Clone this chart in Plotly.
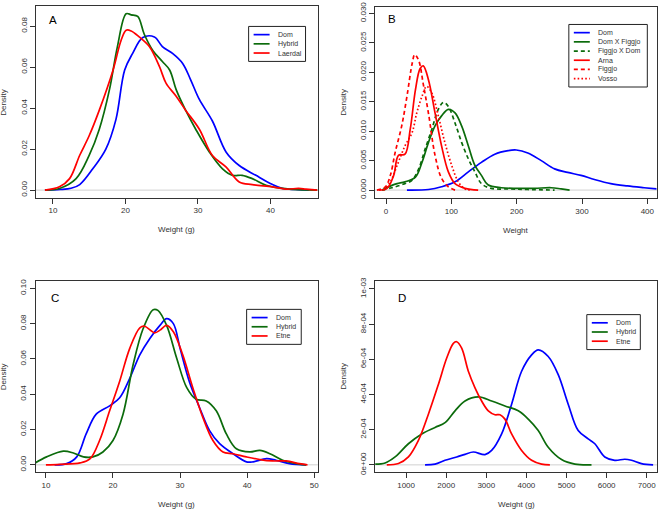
import plotly.graph_objects as go

W, H = 659, 511

# ---------------- data ----------------
# Panel A
A_dom_x = [8.9, 11.0, 12.5, 13.7, 15.5, 17.3, 18.7, 19.9, 21.0, 22.4, 24.0, 25.1, 26.5, 27.9, 29.0, 30.2, 32.0, 33.9, 35.7, 38.0, 40.3, 41.7, 43.5, 45.3]
A_dom_y = [0.0, 0.0003, 0.0009, 0.0027, 0.0104, 0.020, 0.0345, 0.0586, 0.0667, 0.0744, 0.0747, 0.0700, 0.0667, 0.0618, 0.0538, 0.0442, 0.0337, 0.0185, 0.0120, 0.0072, 0.0027, 0.0008, 0.0003, 0.0]
A_hyb_x = [8.9, 10.9, 13.2, 15.0, 16.4, 17.8, 18.9, 20.1, 20.8, 21.7, 22.6, 23.8, 25.1, 26.1, 27.0, 28.3, 29.7, 31.6, 33.4, 34.8, 36.1, 37.5, 39.4, 41.7, 43.9, 46.5]
A_hyb_y = [0.0, 0.0008, 0.0056, 0.0169, 0.0297, 0.049, 0.070, 0.086, 0.0855, 0.0847, 0.076, 0.068, 0.0627, 0.0586, 0.049, 0.039, 0.0297, 0.0185, 0.0104, 0.0072, 0.0072, 0.0056, 0.0024, 0.0008, 0.0002, 0.0]
A_lae_x = [8.9, 10.9, 12.3, 13.7, 15.0, 16.4, 18.3, 19.4, 20.1, 20.8, 21.9, 23.3, 24.7, 25.6, 27.0, 28.3, 30.2, 32.0, 33.9, 35.7, 37.5, 40.3, 42.1, 43.9, 44.9, 46.5]
A_lae_y = [0.0, 0.0016, 0.0056, 0.0170, 0.0265, 0.039, 0.0586, 0.073, 0.078, 0.0776, 0.0747, 0.070, 0.0602, 0.0522, 0.0458, 0.039, 0.0297, 0.0169, 0.0112, 0.004, 0.0027, 0.0016, 0.0005, 0.0008, 0.0005, 0.0]

# Panel B
B_dom_x = [32, 65, 85, 105.6, 126, 146, 166.5, 187, 199.5, 217, 237.6, 258, 278, 298.5, 319, 344, 369.5, 395, 414]
B_dom_y = [0.0, 0.0001, 0.00056, 0.0014, 0.0031, 0.0047, 0.0061, 0.0067, 0.0068, 0.0063, 0.0050, 0.0036, 0.0030, 0.0025, 0.0018, 0.0011, 0.0007, 0.0004, 0.0002]
B_dxf_x = [-6, 9, 17, 29, 45, 55, 65, 75, 85, 95.4, 105.6, 115.7, 126, 136, 146, 156, 176.6, 202, 227, 253, 268, 281]
B_dxf_y = [0.0, 0.0008, 0.0011, 0.0014, 0.0022, 0.0047, 0.0081, 0.0109, 0.0126, 0.0137, 0.0131, 0.0109, 0.0075, 0.0042, 0.0025, 0.0009, 0.0004, 0.0003, 0.0003, 0.0004, 0.0002, 0.0]
B_fxd_x = [-6, 9, 24, 40, 50, 60, 70, 80, 88, 95.4, 105.6, 115.7, 126, 136, 146, 161, 192, 217, 258]
B_fxd_y = [0.0, 0.0004, 0.0009, 0.0017, 0.0036, 0.0070, 0.0103, 0.0137, 0.0149, 0.0142, 0.0114, 0.0081, 0.0053, 0.0031, 0.0011, 0.0003, 0.0002, 0.0001, 0.0]
B_arna_x = [-11, 1.5, 11.7, 19, 29, 37, 45, 52, 57, 65, 75, 85, 95.4, 105.6, 121, 141]
B_arna_y = [0.0, 0.0003, 0.0025, 0.0059, 0.0061, 0.0103, 0.0170, 0.0206, 0.0211, 0.0187, 0.0131, 0.0075, 0.0031, 0.0011, 0.0003, 0.0]
B_fig_x = [-14, -1, 6.6, 14, 24, 32, 40, 44, 50, 57, 65, 75, 85, 95.4, 105.6]
B_fig_y = [0.0, 0.00056, 0.0025, 0.0064, 0.0109, 0.0159, 0.0215, 0.0230, 0.0220, 0.0180, 0.0130, 0.0059, 0.0020, 0.00056, 0.0]
B_vos_x = [-3.5, 6.6, 17, 29, 40, 47, 55, 62, 70, 80, 90, 100.5, 110.7, 121, 131]
B_vos_y = [0.0, 0.0014, 0.0042, 0.0075, 0.0098, 0.0131, 0.0159, 0.0176, 0.0165, 0.0126, 0.0081, 0.0042, 0.0014, 0.0002, 0.0]

# Panel C
C_dom_x = [11.3, 13.1, 14.6, 16.0, 17.5, 19.5, 21.0, 22.5, 24.0, 25.5, 27.0, 28.0, 29.0, 30.0, 31.4, 32.9, 34.4, 35.9, 37.9, 39.9, 40.9, 42.9, 44.3, 46.3, 48.8]
C_dom_y = [0.0, 0.0007, 0.0045, 0.0175, 0.0287, 0.0334, 0.038, 0.049, 0.0623, 0.0716, 0.079, 0.0828, 0.080, 0.066, 0.047, 0.0325, 0.0194, 0.012, 0.0063, 0.0017, 0.0017, 0.0035, 0.0026, 0.0007, 0.0]
C_hyb_x = [8.4, 10.1, 12.6, 14.1, 15.6, 17.0, 18.5, 20.0, 21.5, 23.0, 24.5, 26.0, 26.7, 28.0, 29.5, 31.0, 32.4, 33.9, 35.4, 36.9, 38.4, 40.4, 41.9, 43.4, 45.3, 47.8, 48.8]
C_hyb_y = [0.0011, 0.0045, 0.0078, 0.0067, 0.0045, 0.0045, 0.0073, 0.0138, 0.0287, 0.0567, 0.0772, 0.0879, 0.0875, 0.079, 0.0604, 0.0437, 0.0371, 0.0362, 0.0306, 0.0175, 0.0091, 0.0073, 0.0082, 0.0063, 0.0026, 0.0004, 0.0]
C_etn_x = [10.0, 12.1, 15.1, 16.6, 18.0, 19.5, 21.0, 22.5, 24.0, 24.7, 26.2, 27.0, 28.0, 29.0, 30.4, 31.9, 33.4, 34.9, 36.4, 37.9, 39.9, 41.9, 43.8, 45.8, 47.8, 49.0]
C_etn_y = [0.0, 0.0003, 0.0011, 0.0035, 0.0138, 0.0306, 0.0474, 0.066, 0.0776, 0.0785, 0.0748, 0.0763, 0.079, 0.0754, 0.0623, 0.0437, 0.0269, 0.0138, 0.0073, 0.0063, 0.0045, 0.0030, 0.0022, 0.0022, 0.0007, 0.0]

# Panel D
D_dom_x = [1473, 1722, 1971, 2262, 2469, 2677, 2967, 3133, 3382, 3631, 3880, 4129, 4295, 4544, 4793, 5042, 5291, 5540, 5706, 5955, 6204, 6453, 6619, 6868, 7159]
D_dom_y = [0.0, 0.000004, 0.000026, 0.000045, 0.00006, 0.000073, 0.000058, 0.000082, 0.000176, 0.000345, 0.000532, 0.000625, 0.000654, 0.000616, 0.000513, 0.000345, 0.000195, 0.000148, 0.00012, 0.000045, 0.000026, 0.000032, 0.000026, 0.0000075, 0.0]
D_hyb_x = [228, 477, 726, 1058, 1390, 1722, 1971, 2220, 2469, 2801, 3133, 3465, 3797, 4046, 4295, 4544, 4876, 5208, 5623]
D_hyb_y = [0.000004, 0.000011, 0.000045, 0.00012, 0.000176, 0.000213, 0.00024, 0.000307, 0.000363, 0.000386, 0.000363, 0.000335, 0.000307, 0.00026, 0.000195, 0.0001, 0.00003, 0.000004, 0.0]
D_etn_x = [519, 809, 1058, 1307, 1556, 1805, 2013, 2179, 2262, 2386, 2552, 2718, 2884, 3050, 3216, 3341, 3465, 3631, 3880, 4129, 4378, 4585]
D_etn_y = [0.0, 0.0000075, 0.000045, 0.000139, 0.000288, 0.000457, 0.000607, 0.000691, 0.0007, 0.000663, 0.000532, 0.000438, 0.000363, 0.000307, 0.000285, 0.000285, 0.00026, 0.000176, 0.000082, 0.000026, 0.000004, 0.0]

# Tick labels
A_xticks = [10, 20, 30, 40]
A_yticks = [0.00, 0.02, 0.04, 0.06, 0.08]
A_ytext = ["0.00", "0.02", "0.04", "0.06", "0.08"]
B_xticks = [0, 100, 200, 300, 400]
B_yticks = [0.000, 0.005, 0.010, 0.015, 0.020, 0.025, 0.030]
B_ytext = ["0.000", "0.005", "0.010", "0.015", "0.020", "0.025", "0.030"]
C_xticks = [10, 20, 30, 40, 50]
C_yticks = [0.00, 0.02, 0.04, 0.06, 0.08, 0.10]
C_ytext = ["0.00", "0.02", "0.04", "0.06", "0.08", "0.10"]
D_xticks = [1000, 2000, 3000, 4000, 5000, 6000, 7000]
D_yticks = [0, 0.0002, 0.0004, 0.0006, 0.0008, 0.001]
D_ytext = ["0e+00", "2e-04", "4e-04", "6e-04", "8e-04", "1e-03"]

BLUE = "#0000ff"
GREEN = "#0b6b0b"
RED = "#ff0000"
BOXC = "#333333"
TXT = "#333333"
FONT = "Liberation Sans, Arial, sans-serif"

def px(x):
    return x / W

def py(y):
    return 1 - y / H

# panel layout (pixels): left, right, top, bottom
panels = [
    dict(key="", box=(36, 318, 2, 196), xr=[7.66, 46.5], yr=[-0.0037, 0.0898],
         xt=A_xticks, yt=A_yticks, ytt=A_ytext, xtitle="Weight (g)", letter="A", lpos=(53.5, 16.5),
         series=[("Dom", A_dom_x, A_dom_y, BLUE, "solid"),
                 ("Hybrid", A_hyb_x, A_hyb_y, GREEN, "solid"),
                 ("Laerdal", A_lae_x, A_lae_y, RED, "solid")],
         leg=(249, 22.7, 57)),
    dict(key="2", box=(375.7, 658, 2.7, 196.7), xr=[-16.7, 414.8], yr=[-0.00141, 0.03114],
         xt=B_xticks, yt=B_yticks, ytt=B_ytext, xtitle="Weight", letter="B", lpos=(392.5, 15.5),
         series=[("Dom", B_dom_x, B_dom_y, BLUE, "solid"),
                 ("Dom X Figgjo", B_dxf_x, B_dxf_y, GREEN, "solid"),
                 ("Figgjo X Dom", B_fxd_x, B_fxd_y, GREEN, "4px,3px"),
                 ("Arna", B_arna_x, B_arna_y, RED, "solid"),
                 ("Figgjo", B_fig_x, B_fig_y, RED, "4px,3px"),
                 ("Vosso", B_vos_x, B_vos_y, RED, "1.6px,2.2px")],
         leg=(569.7, 20.7, 78.6)),
    dict(key="3", box=(35.7, 318.3, 280, 474), xr=[8.47, 50.54], yr=[-0.0043, 0.1043],
         xt=C_xticks, yt=C_yticks, ytt=C_ytext, xtitle="Weight (g)", letter="C", lpos=(55.5, 297.5),
         series=[("Dom", C_dom_x, C_dom_y, BLUE, "solid"),
                 ("Hybrid", C_hyb_x, C_hyb_y, GREEN, "solid"),
                 ("Etne", C_etn_x, C_etn_y, RED, "solid")],
         leg=(247, 309, 54.7)),
    dict(key="4", box=(375.7, 658, 280, 474), xr=[228, 7256], yr=[-4.3e-5, 1.0466e-3],
         xt=D_xticks, yt=D_yticks, ytt=D_ytext, xtitle="Weight (g)", letter="D", lpos=(403, 297.5),
         series=[("Dom", D_dom_x, D_dom_y, BLUE, "solid"),
                 ("Hybrid", D_hyb_x, D_hyb_y, GREEN, "solid"),
                 ("Etne", D_etn_x, D_etn_y, RED, "solid")],
         leg=(587.7, 314.3, 53.6)),
]

fig = go.Figure()
layout = dict(width=W, height=H, margin=dict(l=0, r=0, t=0, b=0),
              paper_bgcolor="white", plot_bgcolor="white", showlegend=False,
              font=dict(family=FONT, size=8, color=TXT))
shapes = []
annotations = []

ROW = 9.3
for p in panels:
    k = p["key"]
    L, R, T, B = p["box"]
    xa = "xaxis" + k
    ya = "yaxis" + k
    xref = "x" + k
    yref = "y" + k
    layout[xa] = dict(domain=[px(L), px(R)], range=p["xr"], anchor=yref,
                      tickvals=p["xt"], ticks="outside", ticklen=5, tickwidth=1, tickcolor=BOXC,
                      showline=True, linecolor=BOXC, linewidth=1, mirror=True,
                      showgrid=False, zeroline=False, ticklabelstandoff=0,
                      tickfont=dict(family=FONT, size=8, color=TXT))
    layout[ya] = dict(domain=[py(B), py(T)], range=p["yr"], anchor=xref,
                      tickvals=p["yt"], ticktext=p["ytt"], tickangle=-90,
                      ticks="outside", ticklen=5, tickwidth=1, tickcolor=BOXC,
                      showline=True, linecolor=BOXC, linewidth=1, mirror=True,
                      showgrid=False, zeroline=False, ticklabelstandoff=0,
                      tickfont=dict(family=FONT, size=8, color=TXT))
    # zero reference line
    shapes.append(dict(type="line", xref=xref + " domain", yref=yref, x0=0, x1=1, y0=0, y1=0,
                       line=dict(color="#d0d0d0", width=1), layer="below"))
    for name, xs, ys, col, dash in p["series"]:
        fig.add_trace(go.Scatter(x=xs, y=ys, mode="lines", name=name, xaxis=xref, yaxis=yref,
                                 line=dict(color=col, width=1.7, dash=dash, shape="spline", smoothing=1.0),
                                 cliponaxis=True, showlegend=False))
    # axis titles
    annotations.append(dict(x=px((L + R) / 2), y=py(B + 32), xref="paper", yref="paper",
                            text=p["xtitle"], showarrow=False, xanchor="center", yanchor="middle",
                            font=dict(family=FONT, size=8, color=TXT)))
    annotations.append(dict(x=px(L - 32), y=py((T + B) / 2), xref="paper", yref="paper",
                            text="Density", showarrow=False, xanchor="center", yanchor="middle",
                            textangle=-90, font=dict(family=FONT, size=8, color=TXT)))
    # panel letter
    annotations.append(dict(x=px(p["lpos"][0]), y=py(p["lpos"][1]), xref="paper", yref="paper",
                            text=p["letter"], showarrow=False, xanchor="center", yanchor="middle",
                            font=dict(family=FONT, size=11.5, color="black")))
    # legend box (R style)
    lx, ly, lw = p["leg"]
    n = len(p["series"])
    lh = 8.3 + ROW * (n - 1) + 8.5
    shapes.append(dict(type="rect", xref="paper", yref="paper", x0=px(lx), x1=px(lx + lw),
                       y0=py(ly + lh), y1=py(ly), line=dict(color="#222222", width=1),
                       fillcolor="white", layer="above"))
    for i, (name, xs, ys, col, dash) in enumerate(p["series"]):
        yy = ly + 8.3 + ROW * i
        shapes.append(dict(type="line", xref="paper", yref="paper", x0=px(lx + 5), x1=px(lx + 21),
                           y0=py(yy), y1=py(yy), line=dict(color=col, width=1.7, dash=dash),
                           layer="above"))
        annotations.append(dict(x=px(lx + 27.5), y=py(yy), xref="paper", yref="paper", text=name,
                                showarrow=False, xanchor="left", yanchor="middle",
                                font=dict(family=FONT, size=7, color=TXT)))

layout["shapes"] = shapes
layout["annotations"] = annotations
fig.update_layout(**layout)
fig.write_html("out.html", config={"displayModeBar": False},
               post_script="document.body.style.margin='0';document.body.style.padding='0';")
